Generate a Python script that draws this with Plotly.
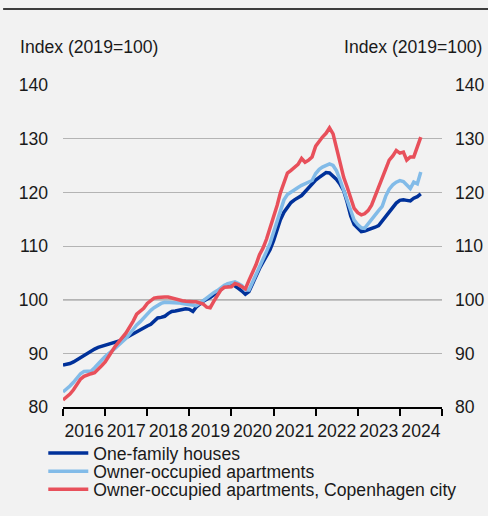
import pandas as pd
import plotly.graph_objects as go

# Monthly index values, Jan 2016 - Jul 2024 (2019 = 100)
months = pd.date_range("2016-01-01", periods=103, freq="MS")

one_family = [
    87.8, 87.9, 88.1, 88.4, 88.8, 89.2, 89.7, 90.1, 90.5, 90.8, 91.1, 91.3,
    91.4, 91.6, 91.8, 92.0, 92.2, 92.5, 92.9, 93.3, 93.6, 94.0, 94.4, 94.7,
    95.1, 95.4, 96.0, 96.6, 96.7, 96.9, 97.4, 97.8, 97.9, 98.0, 98.2, 98.3,
    98.2, 97.8, 98.6, 99.2, 99.7, 100.1, 100.4, 100.9, 101.4, 101.9, 102.5, 102.9,
    103.0, 102.6, 102.1, 101.6, 101.0, 101.5, 103.0, 104.6, 105.8, 107.0, 108.1, 109.3,
    111.0, 113.0, 114.9, 116.3, 117.3, 118.1, 118.6, 119.0, 119.4, 120.1, 120.9, 121.5,
    122.3, 122.8, 123.2, 123.7, 123.6, 123.0, 122.4, 121.5, 120.3, 118.2, 115.6, 114.0,
    113.3, 112.7, 112.8, 113.0, 113.3, 113.5, 113.8, 114.6, 115.5, 116.4, 117.1, 118.0,
    118.5, 118.6, 118.5, 118.4, 118.9, 119.2, 119.7,
]

apartments = [
    82.8, 83.3, 83.9, 84.6, 85.4, 86.2, 86.6, 86.7, 86.7, 87.3, 88.1, 88.7,
    89.4, 89.9, 90.4, 91.0, 91.6, 92.2, 92.8, 93.6, 94.5, 95.3, 95.9, 96.6,
    97.4, 98.0, 98.5, 99.0, 99.3, 99.5, 99.5, 99.5, 99.4, 99.4, 99.3, 99.2,
    99.0, 98.9, 98.9, 99.3, 99.8, 100.4, 100.9, 101.3, 101.7, 102.2, 102.7, 103.0,
    103.2, 103.3, 103.0, 102.6, 101.8, 101.8, 103.2, 104.6, 106.0, 107.5, 109.0, 110.5,
    112.5, 114.5, 116.3, 118.6, 119.6, 120.1, 120.5, 120.9, 121.3, 121.6, 121.9, 122.2,
    123.5, 124.3, 124.7, 125.1, 125.3, 125.0, 124.0, 122.3, 120.5, 118.5, 116.5, 114.8,
    114.0, 113.4, 113.3, 114.2, 114.8, 115.8, 116.6, 117.4, 119.3, 120.6, 121.4, 121.9,
    122.2, 122.0, 121.3, 120.7, 121.9, 121.6, 123.8,
]

copenhagen = [
    81.3, 81.8, 82.4, 83.2, 84.2, 85.2, 85.7, 86.0, 86.2, 86.4, 87.0, 87.7,
    88.4, 89.6, 90.4, 91.4, 92.3, 93.0, 93.8, 94.8, 96.0, 97.3, 97.9, 98.4,
    99.3, 99.9, 100.3, 100.4, 100.5, 100.5, 100.5, 100.3, 100.2, 100.0, 99.8, 99.7,
    99.6, 99.6, 99.6, 99.4, 99.2, 98.6, 98.5, 99.7, 100.9, 101.8, 102.3, 102.3,
    102.4, 103.0, 102.8, 102.4, 102.0, 103.6, 105.0, 106.5, 108.4, 109.6, 111.3, 113.3,
    115.4, 117.6, 119.9, 121.8, 123.6, 124.1, 124.6, 125.2, 126.3, 125.6, 126.0, 126.6,
    128.6, 129.6, 130.3, 131.0, 132.0, 130.9, 128.3, 125.5, 122.8, 121.0, 119.2, 117.0,
    116.2, 115.8, 116.0, 116.6, 117.6, 119.3, 121.2, 123.0, 124.6, 126.0, 126.8, 127.8,
    127.3, 127.5, 126.0, 126.6, 126.6, 128.6, 130.3,
]

series_names = [
    "One-family houses",
    "Owner-occupied apartments",
    "Owner-occupied apartments, Copenhagen city",
]
series_values = [one_family, apartments, copenhagen]
colors = ["#00319a", "#82bbe8", "#e8505b"]
legend_ids = ["legend", "legend2", "legend3"]
legend_rows_y = [-0.143, -0.200, -0.256]

FONT = "Liberation Sans, Arial, sans-serif"
FS = 17.6

fig = go.Figure()
for name, vals, col, lid in zip(series_names, series_values, colors, legend_ids):
    fig.add_trace(go.Scatter(
        x=months, y=vals, name=name, mode="lines",
        line=dict(color=col, width=3.5),
        legend=lid,
    ))

# invisible trace to anchor the right axis
fig.add_trace(go.Scatter(x=[months[0]], y=[100], yaxis="y2", mode="markers",
                         marker=dict(opacity=0), showlegend=False, hoverinfo="skip"))

legend_common = dict(
    bgcolor="rgba(0,0,0,0)", font=dict(family=FONT, size=FS, color="#1a1a1a"),
    xanchor="left", yanchor="middle", x=-0.052, itemwidth=40,
    borderwidth=0, tracegroupgap=0,
)
layout_legends = {}
for lid, ly in zip(legend_ids, legend_rows_y):
    layout_legends[lid] = dict(legend_common, y=ly)

fig.update_layout(
    width=488, height=516,
    margin=dict(l=63, r=46, t=85, b=109, autoexpand=False),
    paper_bgcolor="#f2f2f2", plot_bgcolor="#f2f2f2",
    font=dict(family=FONT, size=FS, color="#1a1a1a"),
    showlegend=True,
    **layout_legends,
    xaxis=dict(
        type="date", range=["2016-01-01", "2025-01-01"],
        tick0="2016-01-01", dtick="M12", tickformat="%Y",
        ticklabelmode="period",
        ticks="outside", ticklen=7, tickwidth=1.5, tickcolor="black",
        showline=True, linecolor="black", linewidth=1.5,
        showgrid=False, zeroline=False,
        tickfont=dict(family=FONT, size=FS, color="#1a1a1a"),
    ),
    yaxis=dict(
        range=[80, 140], dtick=10, tick0=80,
        showgrid=True, gridcolor="#b4b4b4", gridwidth=1,
        zeroline=False, showline=False, ticks="",
        ticklabelstandoff=14,
        tickfont=dict(family=FONT, size=FS, color="#1a1a1a"),
    ),
    yaxis2=dict(
        range=[80, 140], dtick=10, tick0=80, overlaying="y", side="right",
        showgrid=False, zeroline=False, showline=False, ticks="",
        ticklabelstandoff=12,
        tickfont=dict(family=FONT, size=FS, color="#1a1a1a"),
    ),
    shapes=[
        dict(type="line", xref="paper", yref="y", x0=0, x1=1, y0=100, y1=100,
             line=dict(color="#3c3c3c", width=1.3), layer="below"),
        dict(type="line", xref="paper", yref="paper", x0=-0.158, x1=1.13,
             y0=1.236, y1=1.236, line=dict(color="black", width=1.5)),
    ],
    annotations=[
        dict(text="Index (2019=100)", xref="paper", yref="paper",
             x=-0.118, y=1.117, xanchor="left", yanchor="middle", showarrow=False,
             font=dict(family=FONT, size=FS, color="#1a1a1a")),
        dict(text="Index (2019=100)", xref="paper", yref="paper",
             x=1.112, y=1.117, xanchor="right", yanchor="middle", showarrow=False,
             font=dict(family=FONT, size=FS, color="#1a1a1a")),
    ],
)

fig.write_html(
    "out.html",
    config={"displayModeBar": False},
    post_script="document.body.style.margin='0';document.body.style.overflow='hidden';",
)
